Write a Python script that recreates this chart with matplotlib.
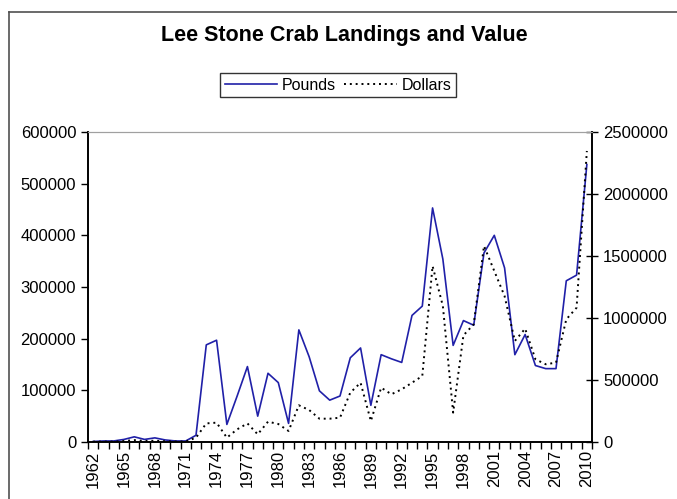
import matplotlib.pyplot as plt
from matplotlib.lines import Line2D
from matplotlib.ticker import FuncFormatter
import numpy as np

plt.rcParams['font.family'] = ['Liberation Sans', 'DejaVu Sans']

# Data
years = list(range(1962, 2011))
pounds = [1000, 2000, 2000, 5000, 10000, 5000, 8000, 4000, 2000, 2000,
          13000, 188000, 197000, 34000, 89000, 146000, 50000, 133000, 115000, 36000,
          217000, 165000, 99000, 81000, 89000, 163000, 182000, 71000, 169000, 161000,
          154000, 245000, 263000, 453000, 354000, 187000, 235000, 226000, 366000, 400000,
          337000, 169000, 208000, 148000, 142000, 142000, 312000, 323000, 537000]
dollars = [3000, 3000, 3000, 8000, 15000, 8000, 10000, 6000, 4000, 4000,
           35000, 150000, 156000, 35000, 102000, 150000, 62000, 164000, 145000, 89000,
           296000, 258000, 188000, 188000, 196000, 398000, 478000, 169000, 438000, 385000,
           425000, 478000, 532000, 1419000, 1097000, 237000, 860000, 949000, 1581000, 1379000,
           1177000, 815000, 914000, 667000, 627000, 640000, 989000, 1083000, 2347000]

W, H = 677, 499
fig = plt.figure(figsize=(W / 100, H / 100), dpi=100)

# chart border (cropped: only top and left edges visible)
fig.lines.append(Line2D([9 / W, 1.0], [1 - 11.5 / H] * 2, transform=fig.transFigure,
                        color='#505050', linewidth=1.2))
fig.lines.append(Line2D([9 / W] * 2, [0.0, 1 - 11.5 / H], transform=fig.transFigure,
                        color='#505050', linewidth=1.2))

ax = fig.add_axes([88 / W, 1 - 442 / H, (592 - 88) / W, (442 - 132) / H])
ax2 = ax.twinx()

x = np.arange(len(years))
l1, = ax.plot(x, pounds, color='#2020a8', linewidth=1.2, label='Pounds')
l2, = ax2.plot(x, dollars, color='black', linewidth=1.4, linestyle=(0, (1, 2)), label='Dollars')

ax.set_xlim(-0.5, len(years) - 0.5)
ax.set_ylim(0, 600000)
ax2.set_ylim(0, 2500000)
ax.set_yticks(np.arange(0, 600001, 100000))
ax2.set_yticks(np.arange(0, 2500001, 500000))
plain = FuncFormatter(lambda v, p: f'{v:.0f}')
ax.yaxis.set_major_formatter(plain)
ax2.yaxis.set_major_formatter(plain)

# tick marks between categories, labels every 3 years
ax.set_xticks(np.arange(-0.5, len(years), 1.0))
ax.set_xticklabels([])
lab_idx = list(range(0, len(years), 3))
ax.set_xticks(lab_idx, minor=True)
ax.set_xticklabels([str(years[i]) for i in lab_idx], minor=True, rotation=90, fontsize=12)
ax.tick_params(axis='x', which='major', direction='out', length=5, width=1)
ax.tick_params(axis='x', which='minor', length=0, pad=6)
ax.tick_params(axis='y', direction='out', length=5, width=1, labelsize=12)
ax2.tick_params(axis='y', direction='inout', length=8, width=1, labelsize=12, pad=4)

for a in (ax, ax2):
    a.spines['top'].set_color('#a0a0a0')
    for s in ('left', 'right', 'bottom'):
        a.spines[s].set_linewidth(1.2)

fig.text(344 / W, 1 - 35 / H, 'Lee Stone Crab Landings and Value', ha='center', va='center',
         fontsize=15.5, fontweight='bold')

leg = fig.legend(handles=[l1, l2], loc='center', bbox_to_anchor=(338 / W, 1 - 85 / H),
                 ncol=2, fontsize=11.5, frameon=True, fancybox=False, handlelength=3.3,
                 handletextpad=0.3, columnspacing=0.5, borderpad=0.3)
leg.get_frame().set_edgecolor('black')
leg.get_frame().set_linewidth(1.0)

fig.savefig('out.png', dpi=100)
